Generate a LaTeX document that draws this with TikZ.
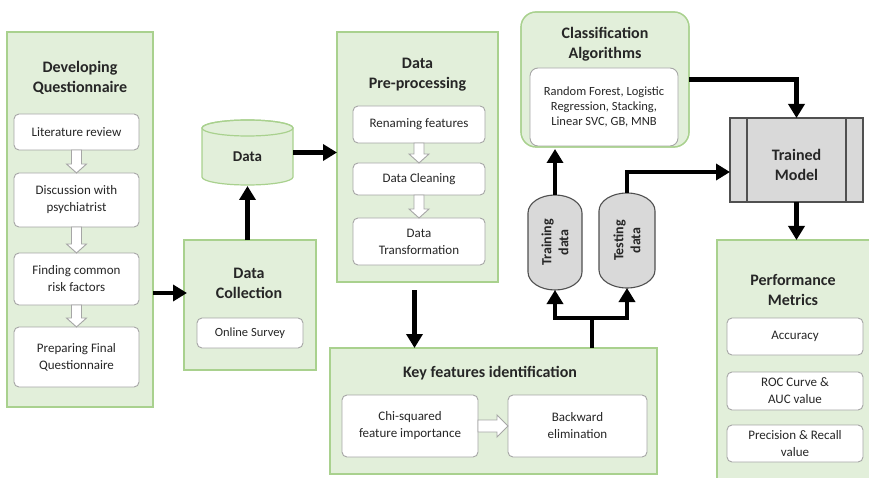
\documentclass[tikz,border=0pt]{standalone}
\usepackage{fontspec}
\setmainfont{Carlito}
\usetikzlibrary{arrows.meta,calc}
\definecolor{gfill}{HTML}{E2EFDA}
\definecolor{gline}{HTML}{A9D18E}
\definecolor{wline}{HTML}{A6A6A6}
\definecolor{txt}{HTML}{262626}
\definecolor{gry}{HTML}{D9D9D9}
\definecolor{gryline}{HTML}{505050}

% hollow block arrows between two named anchors
\newcommand\hollowdown[2]{%
  \draw[hollow] let \p1=(#1), \p2=(#2) in
    (\x1-5pt,\y1) -- (\x1+5pt,\y1) -- (\x1+5pt,\y2+9pt) -- (\x1+10pt,\y2+9pt)
    -- (\x1,\y2) -- (\x1-10pt,\y2+9pt) -- (\x1-5pt,\y2+9pt) -- cycle;}
\newcommand\hollowright[2]{%
  \draw[hollow] let \p1=(#1), \p2=(#2) in
    (\x1,\y1+6pt) -- (\x2-11pt,\y1+6pt) -- (\x2-11pt,\y1+11pt) -- (\x2,\y1)
    -- (\x2-11pt,\y1-11pt) -- (\x2-11pt,\y1-6pt) -- (\x1,\y1-6pt) -- cycle;}

\begin{document}
\begin{tikzpicture}[x=1pt,y=-1pt,
  every node/.style={inner sep=0pt,outer sep=0pt,text=txt},
  gbox/.style={rectangle,fill=gfill,draw=gline,line width=1.2pt},
  wbox/.style={rectangle,fill=white,draw=wline,line width=0.9pt,rounded corners=5pt,
    align=center,font=\fontsize{13}{17}\selectfont},
  ttl/.style={align=center,font=\bfseries\fontsize{16}{20}\selectfont},
  hollow/.style={fill=white,draw=wline,line width=0.9pt},
  arr/.style={line width=4.5pt,-{Triangle[length=14pt,width=16pt]}},
  thk/.style={line width=4.5pt},
  capsule/.style={fill=gry,draw=gryline,line width=1.1pt},
]
\useasboundingbox (0,0) rectangle (869,478);
\fill[white] (0,0) rectangle (869,478);

% ---- Developing questionnaire
\node[gbox,minimum width=146pt,minimum height=375pt] (dq) at (80,219.5) {};
\node[ttl] (dqt) at (80,78) {Developing\\Questionnaire};
\node[wbox,minimum width=125pt,minimum height=36pt] (lit) at (76.5,132) {Literature review};
\node[wbox,minimum width=125pt,minimum height=54pt] (disc) at (76.5,200) {Discussion with\\psychiatrist};
\node[wbox,minimum width=125pt,minimum height=52pt] (find) at (76.5,279) {Finding common\\risk factors};
\node[wbox,minimum width=125pt,minimum height=60pt] (prep) at (76.5,357) {Preparing Final\\Questionnaire};
\hollowdown{lit.south}{disc.north}
\hollowdown{disc.south}{find.north}
\hollowdown{find.south}{prep.north}

% ---- Data collection
\node[gbox,minimum width=132pt,minimum height=130pt] (dc) at (250,305) {};
\node[ttl] (dct) at (249,283) {Data\\Collection};
\node[wbox,minimum width=106pt,minimum height=30pt,font=\fontsize{12.5}{15}\selectfont] (online) at (250,333) {Online Survey};

% ---- Data store
\node[minimum width=91pt,minimum height=65pt] (data) at (247.5,152.5) {};
\filldraw[fill=gfill,draw=gline,line width=1.2pt]
  (202,128) -- (202,177) arc[start angle=180,end angle=360,x radius=45.5pt,y radius=8pt]
  -- (293,128) arc[start angle=0,end angle=180,x radius=45.5pt,y radius=8pt] -- cycle;
\draw[gline,line width=1.2pt] (247.5,128) ellipse[x radius=45.5pt,y radius=8pt];
\node[font=\bfseries\fontsize{15}{18}\selectfont] (datat) at (247.5,157) {Data};

% ---- Data pre-processing
\node[gbox,minimum width=161pt,minimum height=250pt] (dpp) at (417.5,157) {};
\node[ttl] (dppt) at (417.5,75) {Data\\Pre-processing};
\node[wbox,minimum width=132pt,minimum height=37pt] (ren) at (419,124.5) {Renaming features};
\node[wbox,minimum width=132pt,minimum height=32pt] (clean) at (419,179) {Data Cleaning};
\node[wbox,minimum width=132pt,minimum height=47pt] (trans) at (419,241.5) {Data\\Transformation};
\hollowdown{ren.south}{clean.north}
\hollowdown{clean.south}{trans.north}

% ---- Key features identification
\node[gbox,minimum width=327pt,minimum height=126pt] (kf) at (493.5,411) {};
\node[ttl] (kft) at (490,373) {Key features identification};
\node[wbox,minimum width=136pt,minimum height=62pt] (chi) at (410,426) {Chi-squared\\feature importance};
\node[wbox,minimum width=139pt,minimum height=62pt] (back) at (577.5,426) {Backward\\elimination};
\hollowright{chi.east}{back.west}

% ---- Classification algorithms
\node[gbox,rounded corners=15pt,minimum width=168pt,minimum height=135pt] (ca) at (605,79.5) {};
\node[ttl] (cat) at (605,44) {Classification\\Algorithms};
\node[wbox,rounded corners=8pt,minimum width=148pt,minimum height=78pt,
  font=\fontsize{12.5}{15}\selectfont] (algo) at (604,107) {Random Forest, Logistic\\Regression, Stacking,\\Linear SVC, GB, MNB};
\draw[gline,line width=1.2pt,rounded corners=15pt] (ca.north west) rectangle (ca.south east);

% ---- Training / testing data
\node[minimum width=54pt,minimum height=95pt] (tr) at (555,242.5) {};
\node[minimum width=56pt,minimum height=95pt] (te) at (627,240.5) {};
\filldraw[capsule] ([yshift=-18pt]tr.north west) arc[start angle=180,end angle=0,x radius=27pt,y radius=18pt]
  -- ([yshift=18pt]tr.south east) arc[start angle=0,end angle=-180,x radius=27pt,y radius=18pt] -- cycle;
\filldraw[capsule] ([yshift=-18pt]te.north west) arc[start angle=180,end angle=0,x radius=28pt,y radius=18pt]
  -- ([yshift=18pt]te.south east) arc[start angle=0,end angle=-180,x radius=28pt,y radius=18pt] -- cycle;
\node[rotate=90,ttl,font=\bfseries\fontsize{14}{17}\selectfont] (trt) at (tr) {Training\\data};
\node[rotate=90,ttl,font=\bfseries\fontsize{14}{17}\selectfont] (tet) at (te) {Testing\\data};

% ---- Trained model
\node[rectangle,fill=gry,draw=gryline,line width=1.1pt,minimum width=133pt,minimum height=84pt] (tm) at (796.5,160) {};
\draw[gryline,line width=1.1pt] ([xshift=17pt]tm.north west) -- ([xshift=17pt]tm.south west);
\draw[gryline,line width=1.1pt] ([xshift=-17pt]tm.north east) -- ([xshift=-17pt]tm.south east);
\node[ttl] (tmt) at (796.5,165) {Trained\\Model};

% ---- Performance metrics
\node[rectangle,fill=gfill,minimum width=152pt,minimum height=238pt] (pm) at (793,359) {};
\draw[gline,line width=1.2pt] (pm.south west) -- (pm.north west) -- (pm.north east);
\node[ttl] (pmt) at (793,290) {Performance\\Metrics};
\node[wbox,minimum width=136pt,minimum height=37pt] (acc) at (795,336.5) {Accuracy};
\node[wbox,minimum width=136pt,minimum height=38pt] (roc) at (795,391) {ROC Curve \&\\AUC value};
\node[wbox,minimum width=136pt,minimum height=37pt] (prec) at (795,443.5) {Precision \& Recall\\value};

% ---- Connectors
\coordinate (ay) at (0,293);
\coordinate (split) at (592,318);
\draw[arr] (dq.east |- ay) -- ([xshift=3pt]dc.west |- ay);
\draw[arr] (dc.north -| data.south) -- ([yshift=-1pt]data.south);
\draw[arr] (data.east) -- (dpp.west |- data.east);
\draw[arr] ([xshift=-3pt,yshift=-8pt]dpp.south) -- ([xshift=-3pt]kf.north -| dpp.south);
\draw[thk] (kf.north -| split) -- (split);
\draw[arr] ([xshift=2.25pt]split) -| (tr.south);
\draw[arr] ([xshift=-2.25pt]split) -| (te.south);
\draw[arr] (tr.north) -- ([yshift=-2pt]ca.south -| tr.north);
\draw[arr] (te.north) |- ([yshift=-12pt]tm.west);
\draw[arr] (ca.east) -| (tm.north);
\draw[arr] (tm.south) -- (tm.south |- pm.north);
\end{tikzpicture}
\end{document}
